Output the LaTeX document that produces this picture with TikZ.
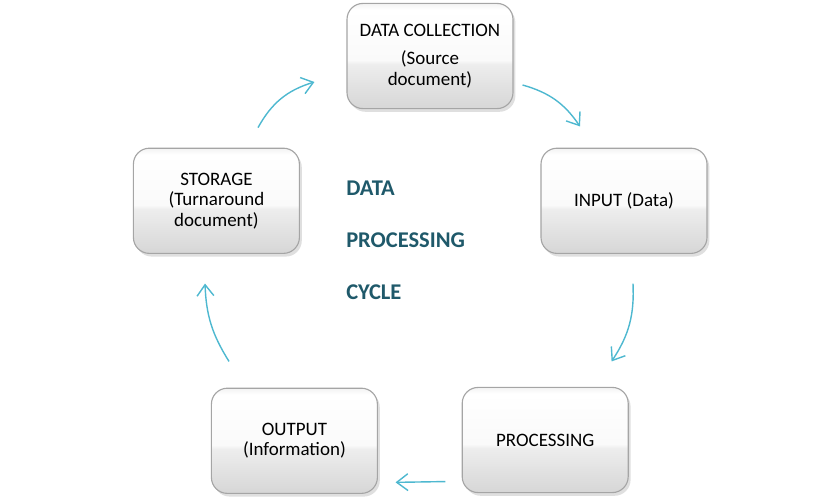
\documentclass[tikz,border=0pt]{standalone}
\usepackage{fontspec}
\setmainfont{Carlito}
\usepackage{tikz}
\usetikzlibrary{arrows.meta, shadows, positioning}
\definecolor{cyclearrow}{RGB}{78,184,208}
\definecolor{titleteal}{RGB}{31,89,106}
\definecolor{boxedge}{RGB}{165,165,165}
\pgfdeclareverticalshading{glossbox}{100bp}{color(0bp)=(gray!32); color(25bp)=(gray!32); color(46bp)=(gray!14); color(48bp)=(gray!4); color(72bp)=(white); color(75bp)=(gray!10); color(100bp)=(gray!10)}

\begin{document}
\begin{tikzpicture}[
  font=\fontsize{13.5}{14.5}\selectfont,
  stage/.style={rectangle, rounded corners=0.4cm, minimum width=4.15cm, minimum height=2.63cm,
    draw=boxedge, line width=0.8pt, shading=glossbox, align=center,
    drop shadow={opacity=0.25, shadow xshift=0.6mm, shadow yshift=-0.8mm}},
  flow/.style={-{Straight Barb[length=2.8mm,width=4.2mm]}, cyclearrow, line width=1pt},
  title/.style={font=\fontsize{16}{37}\selectfont\bfseries, text=titleteal, align=left, inner sep=0pt},
]
\useasboundingbox (0,0) rectangle (21,12.5);

% === Stages of the cycle ===
\node[stage] (collect) at (10.75,11.1) {DATA COLLECTION\\[5.5pt](Source\\document)};
\node[stage] (input)   at (15.6,7.48)  {INPUT (Data)};
\node[stage] (process) at (13.63,1.5)  {PROCESSING};
\node[stage] (output)  at (7.36,1.48)  {OUTPUT\\(Information)};
\node[stage] (storage) at (5.41,7.48)  {STORAGE\\(Turnaround\\document)};

% === Title in the middle ===
\node[title, anchor=west] (cycletitle) at (8.65,6.49) {DATA\\PROCESSING\\CYCLE};

% === Arrow ends ===
\coordinate (s2c-a) at ([shift={(1.04,0.5)}]storage.north);
\coordinate (s2c-b) at ([shift={(-0.8,-0.65)}]collect.west);
\coordinate (c2i-a) at ([shift={(0.225,-0.725)}]collect.east);
\coordinate (c2i-b) at ([shift={(-1.1,0.53)}]input.north);
\coordinate (i2p-a) at ([shift={(0.225,-0.74)}]input.south);
\coordinate (i2p-b) at ([shift={(-0.43,0.635)}]process.north east);
\coordinate (p2o-a) at ([shift={(-0.405,0.29)}]process.south west);
\coordinate (o2s-b) at ([shift={(0.44,0.29)}]output.south east);
\coordinate (o2s-a) at ([shift={(0.455,0.655)}]output.north west);
\coordinate (s2s-b) at ([shift={(-0.285,-0.74)}]storage.south);

% === Arrows ===
\draw[flow] (s2c-a) to[bend left=22] (s2c-b);
\draw[flow] (c2i-a) to[bend left=20] (c2i-b);
\draw[flow] (i2p-a) to[bend left=18] (i2p-b);
\draw[flow] (p2o-a) -- (o2s-b);
\draw[flow] (o2s-a) to[bend left=15] (s2s-b);

\end{tikzpicture}
\end{document}
